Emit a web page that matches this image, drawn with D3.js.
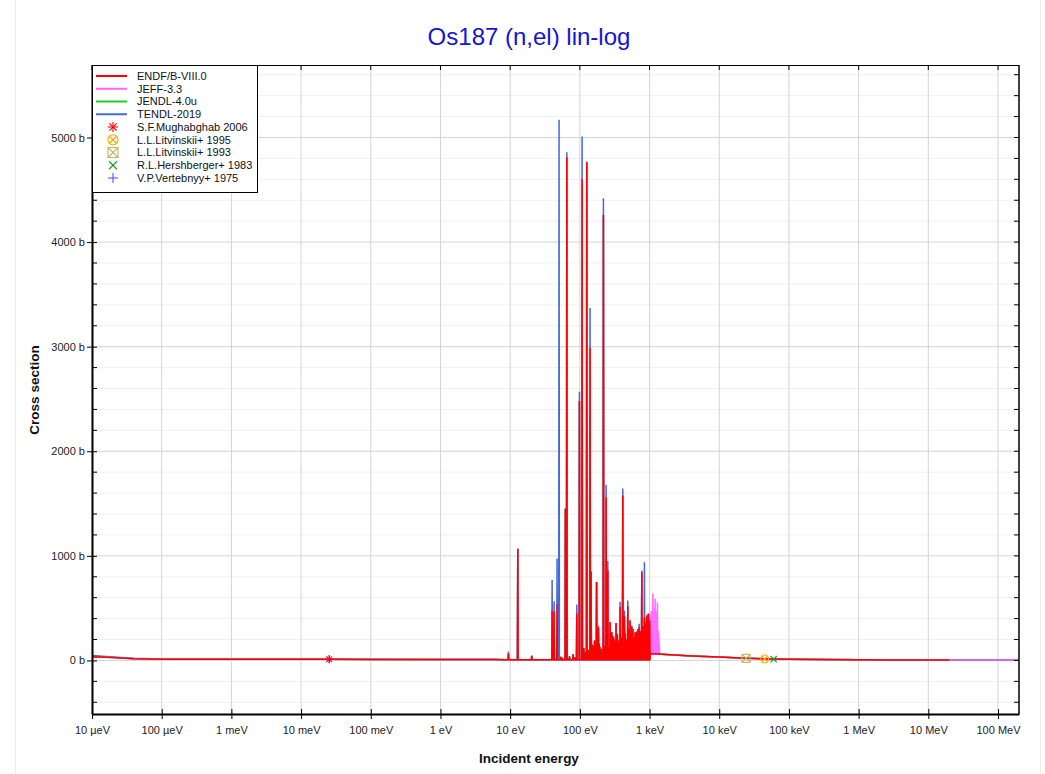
<!DOCTYPE html>
<html><head><meta charset="utf-8">
<script src="https://cdn.jsdelivr.net/npm/d3@7"></script>
<style>body{margin:0;background:#fff}svg{display:block;font-family:Arial,"Liberation Sans",sans-serif}</style>
</head><body><svg id="c" width="1045" height="774"></svg>
<script>
// ---------------- DATA ----------------
const xTickValues = [1e-5,1e-4,1e-3,1e-2,1e-1,1,10,100,1e3,1e4,1e5,1e6,1e7,1e8];
const xTickLabels = ["10 µeV","100 µeV","1 meV","10 meV","100 meV","1 eV","10 eV","100 eV","1 keV","10 keV","100 keV","1 MeV","10 MeV","100 MeV"];
const yTickValues = [0,1000,2000,3000,4000,5000];
const yTickLabels = ["0 b","1000 b","2000 b","3000 b","4000 b","5000 b"];
const yMinorValues = [-400,-200,200,400,600,800,1200,1400,1600,1800,2200,2400,2600,2800,3200,3400,3600,3800,4200,4400,4600,4800,5200,5400,5600];

// thermal / epithermal smooth part (eV, b)
const lowE     = [1e-5, 2e-5, 4e-5, 1e-4, 1e-3, 1e-2, 0.0253, 0.1, 1, 3, 6, 8.5];
const endfLowS = [36, 27, 17, 12, 10.6, 10.4, 10.3, 10.2, 9.8, 9.2, 8.2, 7.5];
const tendlLowS= [48, 34, 20, 13, 10.8, 10.5, 10.4, 10.3, 9.9, 9.3, 8.3, 7.6];

// resolved resonances: energy (eV), ENDF peak (b), TENDL peak (b)
const resBaseline = 6;
const resE = [9.44,12.86,20.4,40.0,42.7,47.1,50.3,53,56,62.0,65.0,71,80,85,90.4,98.6,107.7,114,119,125.7,132,140.2,144.9,151,156,162.8,168,173.8,178,184.5,190,195.1,205,217.8,226,238.2,245,251.9,260,271.8,280,287.3,296,303,309.9,320,331.1,345,354,365,377.8,395,413,425,435.5,448,460.6,470,487.3,500,512,525.8,540,556,575,590,605,620,640,656,680,708,730,750,774,800,844,870,890,914,940,964,985,1005];
const resEndf = [65,1065,45,478,468,540,6,35,25,1450,4810,40,60,30,450,2480,4600,120,80,4760,100,2990,850,150,140,190,130,750,90,315,160,125,110,4260,140,1560,180,860,120,366,200,270,150,230,200,180,357,250,160,190,510,220,1577,180,430,260,150,200,520,300,180,382,240,320,300,200,220,270,250,270,300,320,280,200,844,330,414,300,360,430,350,446,300,380];
const resTendl= [85,1070,45,770,565,975,5170,35,25,1450,4860,40,60,30,535,2570,5010,120,80,4770,100,3370,850,150,140,190,130,750,90,335,160,125,110,4420,140,1680,180,950,120,366,200,270,150,230,200,180,357,250,160,190,560,220,1645,180,478,260,150,200,573,300,180,382,240,335,300,200,220,270,250,280,300,351,280,200,860,330,940,300,360,430,350,446,300,380];

// JEFF-3.3 extra resonances above 1 keV
const jeffBaseline = 62;
const jeffExtraE = [1025,1038,1050,1063,1075,1088,1100,1114,1127,1140,1154,1167,1180,1194,1202,1216,1230,1245,1260,1275,1290,1297,1312,1328,1345,1362,1380];
const jeffExtraS = [420,260,470,330,380,300,470,640,350,430,280,360,500,330,590,300,420,350,470,250,330,557,300,260,280,220,170];

// smooth part above the resonance region (eV, b)
const highE = [1020,1200,1500,2000,3000,5000,1e4,2.4e4,5e4,1e5,3e5,1e6,3e6,1e7,2e7];
const highS = [63,64,60,55,48,40,32,22,15,11,8,6,5.2,4.6,4.3];
const tailE = [5e7,1e8,2e8];
const tailS = [4.0,3.6,3.2];

// experimental points
const mughE=[0.0253],  mughS=[10.5];
const litv95E=[44800], litv95S=[14];
const litv93E=[24300], litv93S=[20];
const hershE=[60300],  hershS=[12];
const vertE=[0.0253],  vertS=[10.5];

// ---------------- BUILD SERIES ----------------
const W = 0.011;
function resPoints(E, P, base){ const out=[]; E.forEach((e,i)=>{out.push([e*(1-W),base],[e,P[i]],[e*(1+W),base]);}); return out; }
const zip=(E,S)=>E.map((e,i)=>[e,S[i]]);
const endfData  = [...zip(lowE,endfLowS), ...resPoints(resE,resEndf,resBaseline), ...zip(highE,highS)];
const jendlData = endfData.slice();
const tendlData = [...zip(lowE,tendlLowS), ...resPoints(resE,resTendl,resBaseline), ...zip(highE,highS), ...zip(tailE,tailS)];
const jeffData  = [...zip(lowE,endfLowS), ...resPoints(resE,resEndf,resBaseline), [1020,63], ...resPoints(jeffExtraE,jeffExtraS,jeffBaseline), ...zip(highE.slice(2),highS.slice(2)), ...zip(tailE,tailS)];

// ---------------- DRAW ----------------
const L=92,R=1019,T=65,B=714;
const x = d3.scaleLog().domain([1e-5,2e8]).range([L,R]);
const y = d3.scaleLinear().domain([-512,5693]).range([B,T]);
const svg = d3.select("#c");

svg.append("rect").attr("x",15.5).attr("y",-2).attr("width",1025).attr("height",778).attr("fill","none").attr("stroke","#ececec");

svg.append("text").attr("x",529).attr("y",45).attr("text-anchor","middle").attr("font-size",24).attr("fill","#1414d2").text("Os187 (n,el) lin-log");

const grid = svg.append("g");
grid.selectAll(".ym").data(yMinorValues).enter().append("line").attr("x1",L).attr("x2",R).attr("y1",d=>y(d)).attr("y2",d=>y(d)).attr("stroke","#f0f0f0").attr("stroke-width",1);
grid.selectAll(".yM").data(yTickValues).enter().append("line").attr("x1",L).attr("x2",R).attr("y1",d=>y(d)).attr("y2",d=>y(d)).attr("stroke","#d4d4d4").attr("stroke-width",1);
grid.selectAll(".xM").data(xTickValues).enter().append("line").attr("y1",T).attr("y2",B).attr("x1",d=>x(d)).attr("x2",d=>x(d)).attr("stroke","#d4d4d4").attr("stroke-width",1);

svg.append("clipPath").attr("id","clip").append("rect").attr("x",L).attr("y",T).attr("width",R-L).attr("height",B-T);
const plot = svg.append("g").attr("clip-path","url(#clip)");
const line = d3.line().x(d=>x(d[0])).y(d=>y(d[1]));
plot.append("path").attr("d",line(tendlData)).attr("fill","none").attr("stroke","#4169e1").attr("stroke-width",1.5);
plot.append("path").attr("d",line(jendlData)).attr("fill","none").attr("stroke","#22cc22").attr("stroke-width",1.5);
plot.append("path").attr("d",line(jeffData)).attr("fill","none").attr("stroke","#ff55ff").attr("stroke-width",1.5).attr("stroke-opacity",0.85);
plot.append("path").attr("d",line(endfData)).attr("fill","none").attr("stroke","#ff0000").attr("stroke-width",1.5);

// markers
function marker(g, type, cx, cy, s, color){
  const h=s/2, m=g.append("g").attr("transform",`translate(${cx},${cy})`).attr("stroke",color).attr("fill","none").attr("stroke-width",1.1);
  const ln=(a,b,c,d)=>m.append("line").attr("x1",a).attr("y1",b).attr("x2",c).attr("y2",d);
  if(type==="ast"){ ln(-h,0,h,0); ln(0,-h,0,h); const k=h*0.72; ln(-k,-k,k,k); ln(-k,k,k,-k); }
  if(type==="circx"){ m.append("circle").attr("r",h); const k=h*0.7; ln(-k,-k,k,k); ln(-k,k,k,-k); }
  if(type==="sqx"){ m.append("rect").attr("x",-h).attr("y",-h).attr("width",s).attr("height",s); ln(-h,-h,h,h); ln(-h,h,h,-h); }
  if(type==="x"){ const k=h*0.8; ln(-k,-k,k,k); ln(-k,k,k,-k); }
  if(type==="plus"){ ln(-h,0,h,0); ln(0,-h,0,h); }
}
const pts = svg.append("g");
const expSets = [
  {E:vertE,S:vertS,type:"plus",color:"#5555ff"},
  {E:hershE,S:hershS,type:"x",color:"#1a9a1a"},
  {E:litv93E,S:litv93S,type:"sqx",color:"#bdb76b"},
  {E:litv95E,S:litv95S,type:"circx",color:"#ffa500"},
  {E:mughE,S:mughS,type:"ast",color:"#ff0000"}
];
expSets.forEach(sset=>sset.E.forEach((e,i)=>marker(pts,sset.type,x(e),y(sset.S[i]),8,sset.color)));

// axes
const xb = d3.axisBottom(x).tickValues(xTickValues).tickFormat((d,i)=>xTickLabels[i]).tickSizeInner(5).tickSizeOuter(0).tickPadding(7);
const gb = svg.append("g").attr("transform",`translate(0,${B})`).call(xb);
gb.selectAll("text").attr("font-size",11).attr("fill","#222").attr("font-family","Arial, 'Liberation Sans', sans-serif");
gb.select(".domain").attr("stroke-width",2);
gb.selectAll(".tick line").attr("y1",-5);
const yl = d3.axisLeft(y).tickValues(yTickValues).tickFormat((d,i)=>yTickLabels[i]).tickSizeInner(5).tickSizeOuter(0).tickPadding(2);
const gl = svg.append("g").attr("transform",`translate(${L},0)`).call(yl);
gl.selectAll("text").attr("font-size",11).attr("fill","#222").attr("font-family","Arial, 'Liberation Sans', sans-serif");
gl.select(".domain").attr("stroke-width",2);
gl.selectAll(".tick line").attr("x1",5);
svg.append("g").selectAll("line").data(yMinorValues).enter().append("line").attr("x1",L).attr("x2",L+5).attr("y1",d=>y(d)).attr("y2",d=>y(d)).attr("stroke","#000");
svg.append("line").attr("x1",L).attr("x2",R).attr("y1",T+0.5).attr("y2",T+0.5).attr("stroke","#000");
svg.append("g").selectAll("line").data(xTickValues).enter().append("line").attr("x1",d=>x(d)).attr("x2",d=>x(d)).attr("y1",T).attr("y2",T+5).attr("stroke","#000");
svg.append("line").attr("x1",R).attr("x2",R).attr("y1",T).attr("y2",B).attr("stroke","#000").attr("stroke-width",1.5);
svg.append("g").selectAll("line").data(yMinorValues.concat(yTickValues)).enter().append("line").attr("x1",R-5).attr("x2",R).attr("y1",d=>y(d)).attr("y2",d=>y(d)).attr("stroke","#000");

// axis titles
svg.append("text").attr("x",529).attr("y",763).attr("text-anchor","middle").attr("font-size",13.5).attr("font-weight","bold").attr("fill","#111").text("Incident energy");
svg.append("text").attr("transform","translate(39,390) rotate(-90)").attr("text-anchor","middle").attr("font-size",13.5).attr("font-weight","bold").attr("fill","#111").text("Cross section");

// legend
const legendNames = ["ENDF/B-VIII.0","JEFF-3.3","JENDL-4.0u","TENDL-2019","S.F.Mughabghab 2006","L.L.Litvinskii+ 1995","L.L.Litvinskii+ 1993","R.L.Hershberger+ 1983","V.P.Vertebnyy+ 1975"];
const legendKinds  = ["line","line","line","line","ast","circx","sqx","x","plus"];
const legendColors = ["#ff0000","#ff66ff","#22cc22","#4169e1","#ff0000","#ffa500","#bdb76b","#1a9a1a","#5555ff"];
const lg = svg.append("g");
lg.append("rect").attr("x",L+0.5).attr("y",T+0.5).attr("width",165).attr("height",127).attr("fill","#fff").attr("stroke","#000");
legendNames.forEach((n,i)=>{
  const yy = 76 + i*12.75;
  if(legendKinds[i]==="line") lg.append("line").attr("x1",96).attr("x2",127).attr("y1",yy).attr("y2",yy).attr("stroke",legendColors[i]).attr("stroke-width",2);
  else marker(lg,legendKinds[i],113,yy,10,legendColors[i]);
  lg.append("text").attr("x",137).attr("y",yy).attr("dy","0.35em").attr("font-size",11).attr("fill","#111").text(n);
});
</script></body></html>
